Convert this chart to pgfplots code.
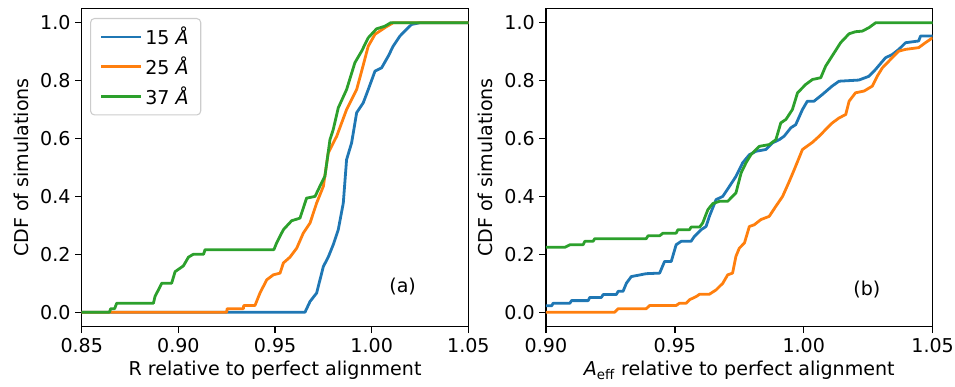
\documentclass[border=0pt]{standalone}
\usepackage{fontspec}
\setmainfont{DejaVu Sans}
\usepackage{pgfplots}
\pgfplotsset{compat=1.18}
\definecolor{tabblue}{HTML}{1F77B4}
\definecolor{taborange}{HTML}{FF7F0E}
\definecolor{tabgreen}{HTML}{2CA02C}
\newcommand\fs{\fontsize{14.3}{17}\selectfont}
\pgfplotsset{
  cdf/.style={
    scale only axis, width=290pt, height=238.8pt,
    ymin=-0.05, ymax=1.05,
    ytick={0,0.2,0.4,0.6,0.8,1.0},
    tick align=outside, tick pos=left,
    major tick length=4.9pt,
    axis line style={line width=1.0pt},
    every tick/.style={black, line width=1.0pt},
    /pgf/number format/assume math mode=true,
    yticklabel style={/pgf/number format/fixed, /pgf/number format/fixed zerofill, /pgf/number format/precision=1},
    xticklabel style={/pgf/number format/fixed, /pgf/number format/fixed zerofill, /pgf/number format/precision=2},
    tick label style={font=\fs},
    label style={font=\fs},
    ylabel={CDF of simulations},
    ylabel shift=2pt,
    every axis plot/.append style={line width=2.1pt, line join=round},
  }
}
\begin{document}
\begin{tikzpicture}
\begin{axis}[cdf,
  xmin=0.85, xmax=1.05,
  xtick={0.85,0.90,0.95,1.00,1.05},
  xlabel={R relative to perfect alignment},
  legend style={at={(0.0215,0.9695)}, anchor=north west, draw=black!20, rounded corners=3pt, fill=white, fill opacity=0.8, text opacity=1, font=\fs, row sep=3.5pt, inner xsep=7pt, inner ysep=4.5pt, line width=0.8pt},
  legend cell align=left,
  legend image code/.code={\draw[#1, line width=2.1pt] (0pt,0pt) -- (30pt,0pt);},
]
\addplot[tabblue] coordinates {
(0.84,0) (0.9655,0) (0.9681,0.037) (0.9715,0.066) (0.9750,0.158) (0.9775,0.19) (0.9801,0.233) (0.9827,0.285) (0.9853,0.377) (0.9870,0.527) (0.9896,0.585) (0.9922,0.689) (0.9956,0.723) (0.9982,0.769) (1.0017,0.833) (1.0051,0.844) (1.0086,0.885) (1.0111,0.919) (1.0146,0.954) (1.0180,0.977) (1.0206,0.994) (1.0249,1.0) (1.06,1.0)
};
\addlegendentry{15 \textit{Å}}
\addplot[taborange] coordinates {
(0.84,0) (0.9250,0) (0.9252,0.012) (0.9336,0.012) (0.9338,0.023) (0.9396,0.023) (0.9422,0.066) (0.9457,0.112) (0.9491,0.129) (0.9526,0.135) (0.9543,0.17) (0.9577,0.19) (0.9612,0.221) (0.9646,0.273) (0.9681,0.308) (0.9715,0.377) (0.9750,0.435) (0.9775,0.55) (0.9819,0.608) (0.9870,0.70) (0.9922,0.769) (0.9948,0.833) (0.9982,0.919) (1.0017,0.96) (1.0068,0.983) (1.0111,1.0) (1.06,1.0)
};
\addlegendentry{25 \textit{Å}}
\addplot[tabgreen] coordinates {
(0.84,0) (0.8643,0) (0.8650,0.012) (0.8670,0.012) (0.8681,0.031) (0.8871,0.031) (0.8879,0.054) (0.8914,0.10) (0.8965,0.10) (0.8983,0.14) (0.9026,0.16) (0.9052,0.19) (0.9077,0.20) (0.9130,0.20) (0.9138,0.216) (0.9494,0.216) (0.9508,0.239) (0.9543,0.285) (0.9586,0.316) (0.9629,0.325) (0.9663,0.394) (0.9707,0.40) (0.9732,0.435) (0.9758,0.47) (0.9784,0.596) (0.9801,0.631) (0.9827,0.706) (0.9870,0.769) (0.9913,0.862) (0.9948,0.902) (0.9982,0.948) (1.0025,0.979) (1.0068,0.988) (1.0098,1.0) (1.06,1.0)
};
\addlegendentry{37 \textit{Å}}
\node[font=\fs] at (axis cs:1.016,0.0875) {(a)};
\end{axis}
\begin{axis}[cdf, at={(348.2pt,0pt)},
  xmin=0.90, xmax=1.05,
  xtick={0.90,0.95,1.00,1.05},
  xlabel={\textit{A}\textsubscript{eff} relative to perfect alignment},
]
\addplot[tabblue] coordinates {
(0.89,0.022) (0.9022,0.022) (0.9028,0.031) (0.9093,0.031) (0.9099,0.04) (0.9164,0.04) (0.9170,0.051) (0.9215,0.051) (0.9222,0.061) (0.9273,0.061) (0.9280,0.072) (0.9299,0.072) (0.9312,0.10) (0.9331,0.123) (0.9389,0.133) (0.9441,0.135) (0.9460,0.175) (0.9486,0.175) (0.9505,0.233) (0.9525,0.245) (0.9563,0.245) (0.9576,0.262) (0.9602,0.285) (0.9621,0.296) (0.9634,0.331) (0.9660,0.389) (0.9686,0.40) (0.9712,0.435) (0.9737,0.469) (0.9763,0.516) (0.9789,0.544) (0.9815,0.556) (0.9853,0.562) (0.9879,0.585) (0.9905,0.596) (0.9924,0.608) (0.9950,0.637) (0.9969,0.648) (0.9995,0.70) (1.0014,0.729) (1.0040,0.729) (1.0072,0.752) (1.0110,0.781) (1.0137,0.798) (1.0214,0.802) (1.0253,0.815) (1.0279,0.839) (1.0317,0.879) (1.0343,0.89) (1.0369,0.908) (1.0395,0.931) (1.0446,0.937) (1.0453,0.954) (1.0500,0.954)
};
\addplot[taborange] coordinates {
(0.89,0) (0.9267,0) (0.9280,0.012) (0.9389,0.012) (0.9402,0.023) (0.9505,0.023) (0.9518,0.031) (0.9544,0.031) (0.9557,0.043) (0.9583,0.054) (0.9596,0.062) (0.9634,0.062) (0.9660,0.077) (0.9686,0.10) (0.9705,0.129) (0.9724,0.135) (0.9737,0.193) (0.9750,0.221) (0.9770,0.239) (0.9789,0.296) (0.9808,0.302) (0.9834,0.32) (0.9866,0.331) (0.9892,0.366) (0.9918,0.40) (0.9944,0.452) (0.9963,0.492) (0.9995,0.562) (1.0034,0.587) (1.0060,0.608) (1.0085,0.631) (1.0111,0.654) (1.0137,0.671) (1.0163,0.683) (1.0176,0.729) (1.0201,0.758) (1.0234,0.764) (1.0266,0.781) (1.0285,0.815) (1.0305,0.844) (1.0343,0.879) (1.0369,0.902) (1.0395,0.908) (1.0446,0.914) (1.0472,0.931) (1.0500,0.948)
};
\addplot[tabgreen] coordinates {
(0.89,0.224) (0.9073,0.224) (0.9093,0.233) (0.9144,0.233) (0.9151,0.245) (0.9183,0.245) (0.9189,0.254) (0.9389,0.254) (0.9396,0.264) (0.9441,0.264) (0.9454,0.273) (0.9505,0.273) (0.9512,0.285) (0.9557,0.285) (0.9563,0.294) (0.9596,0.294) (0.9608,0.308) (0.9628,0.354) (0.9647,0.375) (0.9673,0.383) (0.9705,0.383) (0.9737,0.412) (0.9757,0.481) (0.9776,0.516) (0.9795,0.544) (0.9828,0.573) (0.9866,0.579) (0.9892,0.596) (0.9911,0.654) (0.9931,0.666) (0.9956,0.70) (0.9976,0.758) (1.0008,0.787) (1.0034,0.804) (1.0066,0.81) (1.0085,0.85) (1.0118,0.896) (1.0143,0.931) (1.0176,0.962) (1.0201,0.969) (1.0227,0.971) (1.0253,0.983) (1.0279,1.0) (1.06,1.0)
};
\node[font=\fs] at (axis cs:1.0245,0.077) {(b)};
\end{axis}
\pgfresetboundingbox
\path (-61.3pt,-45.2pt) rectangle (655pt,245pt);
\end{tikzpicture}
\end{document}
